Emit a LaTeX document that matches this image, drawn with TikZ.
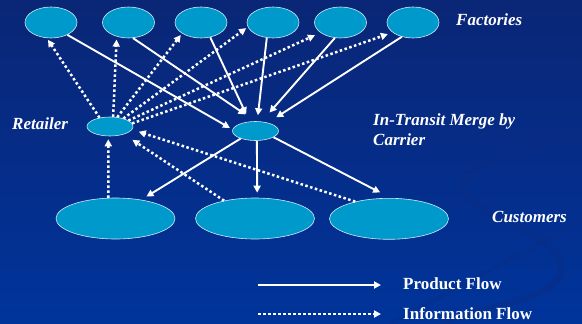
\documentclass[tikz,border=0pt]{standalone}
\usepackage{fontspec}
\setmainfont{Liberation Serif}
\usetikzlibrary{arrows.meta,shapes.geometric}
\definecolor{bgtop}{RGB}{10,38,118}
\definecolor{bgbot}{RGB}{0,52,155}
\definecolor{swoosh}{RGB}{12,44,130}
\definecolor{nodefill}{RGB}{0,153,204}
\begin{document}
\begin{tikzpicture}[x=1pt,y=-1pt,
  ell/.style={ellipse,fill=nodefill,draw=white!80!nodefill,line width=0.6pt,inner sep=0pt},
  fac/.style={ell,minimum width=52pt,minimum height=31pt},
  cust/.style={ell,minimum width=119pt,minimum height=41pt},
  hub/.style={ell,minimum width=46pt,minimum height=19pt},
  prod/.style={draw=white,line width=1.9pt,-{Triangle[length=7pt,width=7pt]}},
  info/.style={draw=white,line width=2.5pt,dash pattern=on 2.5pt off 2.5pt,-{Triangle[length=7pt,width=7pt]}},
  lbl/.style={text=white,font=\bfseries\itshape\fontsize{17}{20}\selectfont,inner sep=0pt,anchor=base west},
  leg/.style={text=white,font=\bfseries\fontsize{17}{20}\selectfont,inner sep=0pt,anchor=base west}]
\useasboundingbox (0,0) rectangle (582,324);
\shade[top color=bgtop,bottom color=bgbot] (0,0) rectangle (582,324);
\begin{scope}[swoosh,line width=7pt,opacity=0.35]
\draw (582,135) .. controls (500,150) and (440,175) .. (470,200) .. controls (500,225) and (570,240) .. (560,275) .. controls (550,300) and (470,310) .. (440,324);
\draw[line width=4pt] (582,220) .. controls (530,250) and (470,280) .. (390,324);
\end{scope}
% factories
\node[fac] (f1) at (51,22.5) {};
\node[fac] (f2) at (128.5,22.5) {};
\node[fac] (f3) at (201,22.5) {};
\node[fac] (f4) at (273,22.5) {};
\node[fac] (f5) at (340.5,22.5) {};
\node[fac] (f6) at (413,22.5) {};
% hubs
\node[hub] (r) at (110,126.5) {};
\node[hub] (m) at (255.5,131) {};
% customers
\node[cust] (c1) at (115.5,218.5) {};
\node[cust] (c2) at (255,218.5) {};
\node[cust] (c3) at (389,218.8) {};
% labels
\node[lbl] (tf) at (456,26) {Factories};
\node[lbl] (tr) at (12,129) {Retailer};
\node[lbl] (tm1) at (373,125) {In-Transit Merge by};
\node[lbl] (tm2) at (373,145) {Carrier};
\node[lbl] (tc) at (492,222) {Customers};
% product flow
\draw[prod,shorten >=3pt] (f1.-37) -- (m.176);
\draw[prod,shorten >=12pt] (f2.-74) -- (m.91);
\draw[prod,shorten >=8pt] (f3.-58) -- (m.122);
\draw[prod,shorten >=6pt] (f4.-112) -- (m.80);
\draw[prod,shorten >=12pt] (f5.-110) -- (m.57);
\draw[prod,shorten >=10pt] (f6.-128) -- (m.34);
\draw[prod,shorten >=6pt] (m.207) -- (c1.36);
\draw[prod,shorten >=5pt] (m.-82) -- (c2.84);
\draw[prod,shorten >=12pt] (m.-19) -- (c3.85);
% information flow
\draw[info,shorten >=2pt] (r.140) -- (f1.-105);
\draw[info,shorten >=3pt] (r.72) -- (f2.-130);
\draw[info,shorten >=2pt] (r.52) -- (f3.-150);
\draw[info,shorten >=2pt] (r.31) -- (f4.-170);
\draw[info,shorten >=6pt] (r.18) -- (f5.-153);
\draw[info,shorten >=5pt] (r.8) -- (f6.-154);
\draw[info,shorten >=3pt] (c1.109) -- (r.-100);
\draw[info,shorten >=10pt] (c2.150) -- (r.-29);
\draw[info,shorten >=7pt] (c3.153) -- (r.-8);
% legend
\coordinate (l1a) at (258,285);
\coordinate (l1b) at (381,285);
\coordinate (l2a) at (258,314);
\coordinate (l2b) at (381,314);
\draw[prod,line width=2.3pt] (l1a) -- (l1b);
\draw[info] (l2a) -- (l2b);
\node[leg] (lp) at (403,289) {Product Flow};
\node[leg] (li) at (403,319) {Information Flow};
\end{tikzpicture}
\end{document}
